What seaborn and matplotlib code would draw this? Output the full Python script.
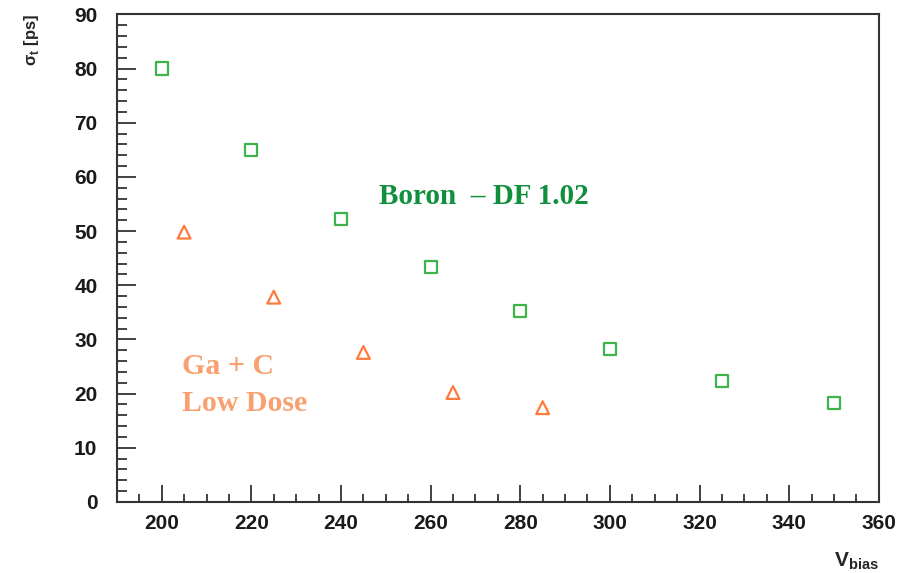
import matplotlib
matplotlib.use("Agg")
import matplotlib.pyplot as plt
import pandas as pd
import seaborn as sns
from matplotlib.ticker import MultipleLocator

# Data
boron_vbias = [200, 220, 240, 260, 280, 300, 325, 350]
boron_sigma = [80.0, 65.0, 52.3, 43.3, 35.3, 28.2, 22.3, 18.3]

gac_vbias = [205, 225, 245, 265, 285]
gac_sigma = [49.8, 37.8, 27.6, 20.2, 17.4]

df_boron = pd.DataFrame({"vbias": boron_vbias, "sigma": boron_sigma})
df_gac = pd.DataFrame({"vbias": gac_vbias, "sigma": gac_sigma})

sns.set_style("white")
plt.rcParams["font.family"] = ["Liberation Sans", "DejaVu Sans"]
plt.rcParams["mathtext.fontset"] = "custom"
plt.rcParams["mathtext.rm"] = "Liberation Sans"
plt.rcParams["mathtext.bf"] = "Liberation Sans:bold"

green = "#3cb44a"
orange = "#ff7a3c"

fig = plt.figure(figsize=(9.06, 5.73), dpi=100)
ax = fig.add_axes([0.129, 0.124, 0.841, 0.851])

sns.scatterplot(data=df_boron, x="vbias", y="sigma", ax=ax, marker="s", s=75,
                facecolor="none", edgecolor=green, linewidth=1.6)
sns.scatterplot(data=df_gac, x="vbias", y="sigma", ax=ax, marker="^", s=85,
                facecolor="none", edgecolor=orange, linewidth=1.6)

ax.set_xlim(190, 360)
ax.set_ylim(0, 90)

# ROOT-like axes: ticks inside, only bottom and left
ax.xaxis.set_major_locator(MultipleLocator(20))
ax.xaxis.set_minor_locator(MultipleLocator(5))
ax.yaxis.set_major_locator(MultipleLocator(10))
ax.yaxis.set_minor_locator(MultipleLocator(2))
ax.tick_params(which="both", bottom=True, left=True, top=False, right=False)
ax.tick_params(axis="x", which="major", direction="in", length=12, width=1.3,
               pad=9, labelsize=15, color="#333333")
ax.tick_params(axis="x", which="minor", direction="in", length=6, width=1.3,
               color="#333333")
ax.tick_params(axis="y", which="major", direction="in", length=14, width=1.3,
               pad=14, labelsize=15, color="#333333")
ax.tick_params(axis="y", which="minor", direction="in", length=7, width=1.3,
               color="#333333")
for lab in ax.get_xticklabels() + ax.get_yticklabels():
    lab.set_fontweight("bold")
    lab.set_color("#1a1a1a")
for sp in ax.spines.values():
    sp.set_linewidth(1.5)
    sp.set_color("#333333")

ax.set_xlabel(r"$\mathbf{V}_{\mathbf{bias}}$", fontsize=15, loc="right")
ax.xaxis.set_label_coords(1.0, -0.10)
ax.set_ylabel(r"σ$_{\mathbf{t}}$ [ps]", fontsize=12, fontweight="bold", loc="top")
ax.yaxis.set_label_coords(-0.1, 1.0)

ax.text(248.5, 56.4, "Boron  – DF 1.02", fontsize=21, fontweight="bold",
        family="Liberation Serif", color="#10903c", va="center", ha="left")
ax.text(204.5, 25.0, "Ga + C", fontsize=21.5, fontweight="bold",
        family="Liberation Serif", color="#f8a070", va="center", ha="left")
ax.text(204.5, 18.2, "Low Dose", fontsize=21.5, fontweight="bold",
        family="Liberation Serif", color="#f8a070", va="center", ha="left")

fig.savefig("out.png", dpi=100)
